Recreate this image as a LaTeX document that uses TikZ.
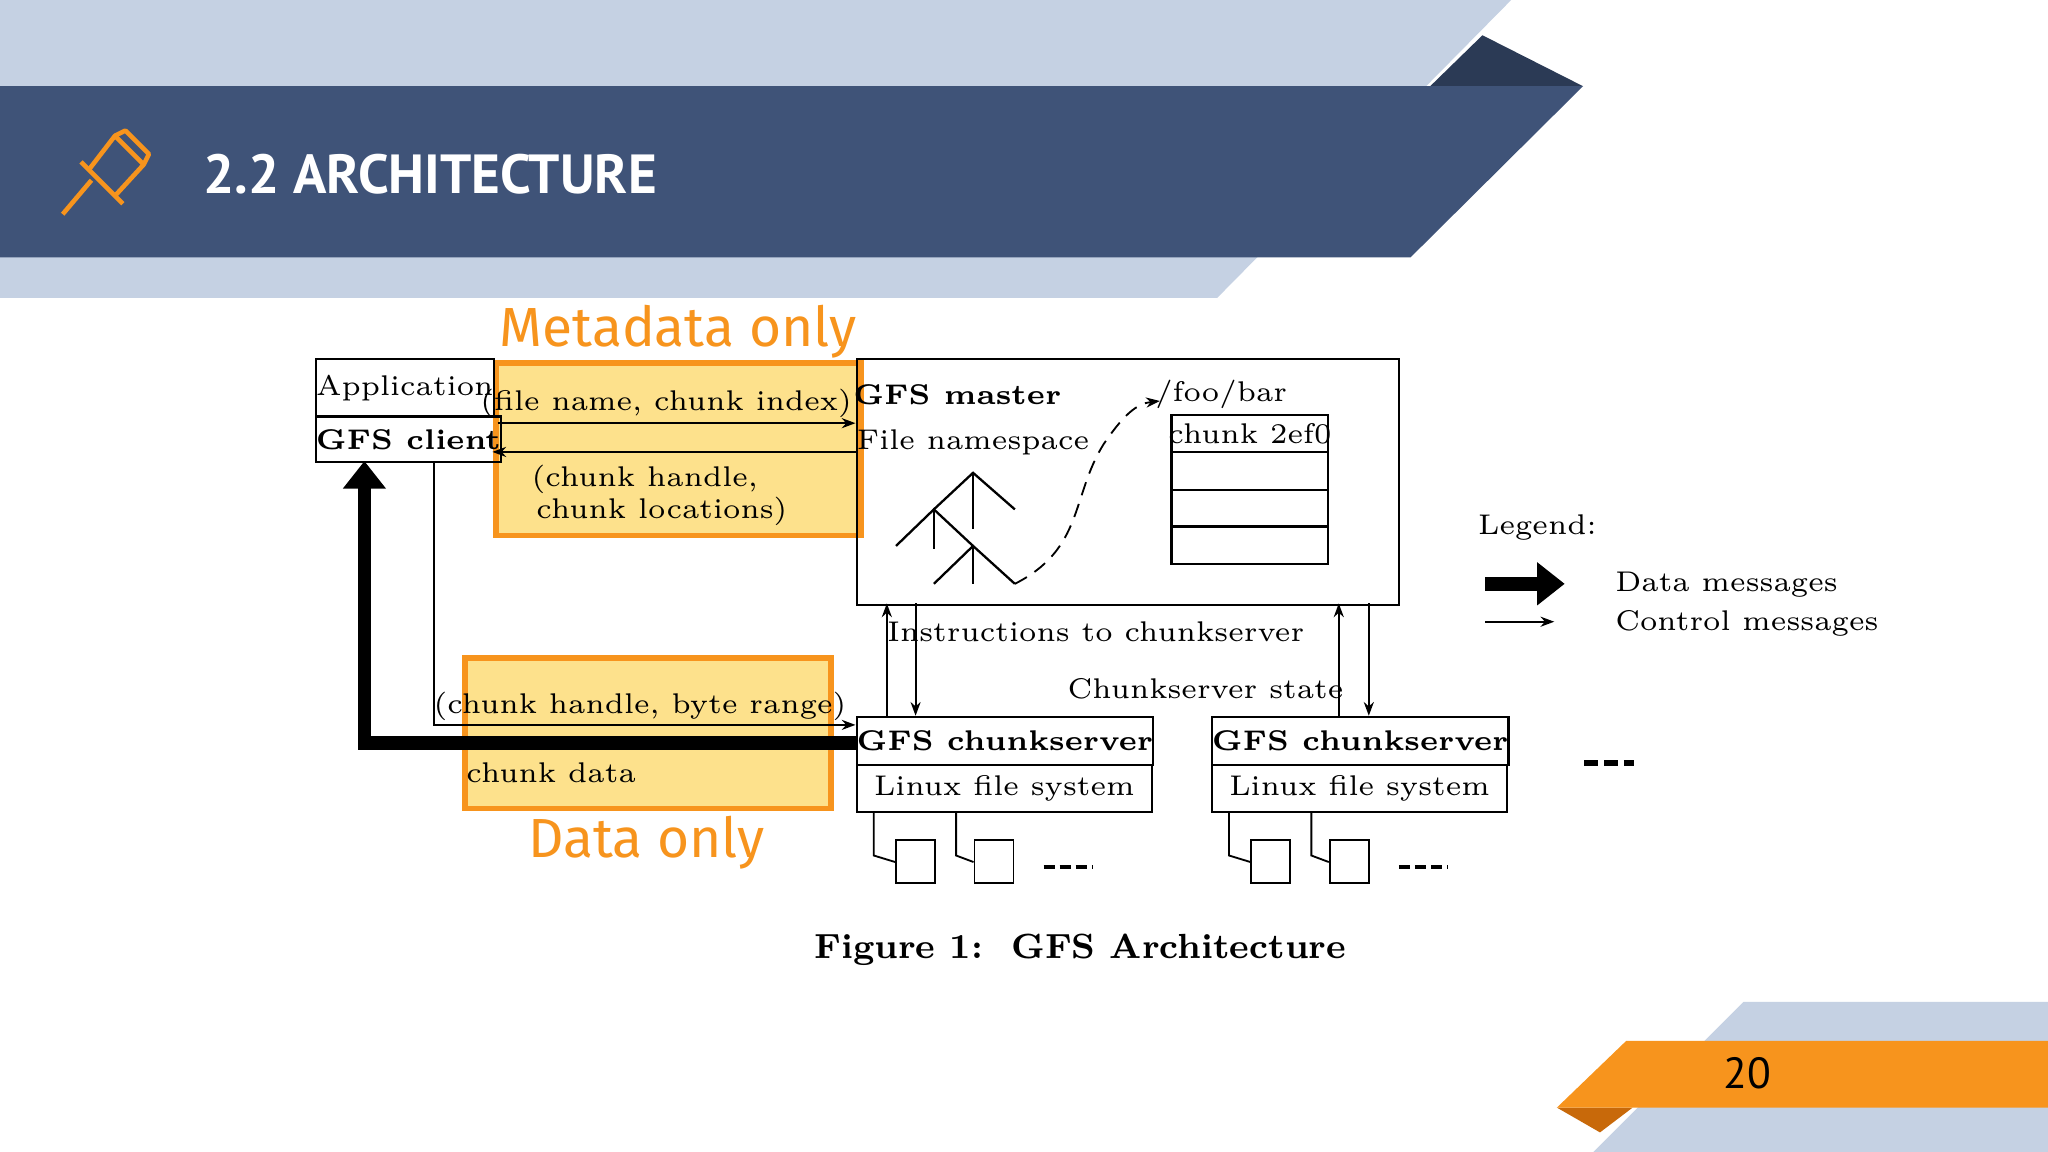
\documentclass[tikz,border=0pt]{standalone}
\usepackage{fontspec}
\newfontfamily\sans{PT Sans}
\newfontfamily\rob{Fira Sans}
\usetikzlibrary{arrows.meta,shapes.geometric}
\definecolor{lightb}{HTML}{C5D1E3}
\definecolor{darkb}{HTML}{3F5378}
\definecolor{navy}{HTML}{2B3A55}
\definecolor{org}{HTML}{F7941D}
\definecolor{orgd}{HTML}{C8690A}
\definecolor{yel}{HTML}{FDE18C}
\tikzset{
 t/.style={font=\fontsize{6.2}{7}\selectfont,inner sep=0pt},
 tb/.style={t,font=\fontsize{6.2}{7}\selectfont\bfseries},
 box/.style={draw,line width=0.5pt},
 hl/.style={draw=org,line width=1.3pt,fill=yel},
 ar/.style={-{Stealth[length=3pt,width=2.2pt]},line width=0.4pt},
 big/.style={-{Triangle[length=6pt,width=9pt]},line width=3pt},
 ol/.style={text=org,font=\rob\fontsize{12}{13}\selectfont,inner sep=0pt},
 cyl/.style={cylinder,shape border rotate=90,draw,line width=0.4pt,aspect=0.3,minimum width=8.5pt,minimum height=9.5pt,inner sep=0pt,fill=white},
}
\begin{document}
\begin{tikzpicture}[x=0.01cm,y=-0.01cm]
\useasboundingbox (0,0) rectangle (1568,882);
\fill[white] (0,0) rectangle (1568,882);
% header
\fill[lightb] (0,0)--(1157,0)--(932,228)--(0,228)--cycle;
\fill[navy] (1095,66)--(1135,27)--(1212,66)--cycle;
\fill[darkb] (0,66)--(1212,66)--(1080,197)--(0,197)--cycle;
\node[anchor=west,text=white,font=\sans\bfseries\fontsize{12}{14}\selectfont,inner sep=0pt] (title) at (155,133) {2.2 ARCHITECTURE};
% pin icon
\begin{scope}[draw=org,line width=1pt,line join=round]
\draw (48,164)--(70,138);
\draw (62,124)--(94,156);
\draw (68,130)--(88,104)--(110,126)--(88,150);
\draw (88,104)--(96,100)--(114,118)--(110,126);
\end{scope}
% footer
\fill[lightb] (1335,767)--(1568,767)--(1568,882)--(1220,882)--cycle;
\fill[orgd] (1192,848)--(1250,848)--(1225,867)--cycle;
\fill[org] (1245,797)--(1568,797)--(1568,848)--(1192,848)--cycle;
\node[font=\sans\fontsize{9.5}{11}\selectfont,inner sep=0pt] (pg) at (1338,822) {20};
% highlight boxes
\draw[hl] (380,278) rectangle (659,410);
\draw[hl] (356,504) rectangle (636,619);
\node[ol] (meta) at (519,254) {Metadata only};
\node[ol] (donly) at (495,645) {Data only};
% client
\node[box,minimum width=136\pgflinewidth,anchor=north west,t,minimum width=1.36cm,minimum height=0.44cm] (app) at (241,274) {Application};
\node[box,anchor=north west,tb,minimum width=1.36cm,minimum height=0.35cm] (cli) at (241,318) {GFS client};
% master
\node[box,anchor=north west,minimum width=4.15cm,minimum height=1.88cm,inner sep=0pt] (master) at (655,274) {};
\node[tb] (gm) at (733,302) {GFS master};
\node[t] (fn) at (745,339) {File namespace};
\node[t] (foo) at (935,302) {/foo/bar};
\draw[box] (897,318) rectangle (1017,432);
\foreach \y in {346,375,403} \draw[line width=0.5pt] (897,\y)--(1017,\y);
\node[t] (c2) at (957,332) {chunk 2ef0};
% tree
\begin{scope}[line width=0.5pt]
\draw (715,390)--(745,362)--(777,390);
\draw (745,362)--(745,405);
\draw (686,418)--(715,390)--(745,418);
\draw (715,390)--(715,420);
\draw (715,447)--(745,418)--(777,447);
\draw (745,418)--(745,447);
\end{scope}
\coordinate (tr) at (777,447);
\coordinate (fb) at (888,307);
\draw[ar,densely dashed] (tr) .. controls (830,420) and (820,380) .. (845,340) .. controls (860,318) and (870,309) .. (fb);
% metadata arrows
\coordinate (m1) at (655,324); \coordinate (c1) at (381,324);
\coordinate (m2) at (655,346); \coordinate (c2b) at (377,346);
\draw[ar] (c1)--(m1);
\draw[ar] (m2)--(c2b);
\node[t] (l1) at (510,309) {(file name, chunk index)};
\node[t,align=left] (l2) at (505,379) {(chunk handle,\\ \,chunk locations)};
% chunkservers
\node[box,anchor=north west,tb,minimum width=2.26cm,minimum height=0.37cm] (cs1) at (655,548) {GFS chunkserver};
\node[box,anchor=north west,t,minimum width=2.26cm,minimum height=0.36cm] (lf1) at (655,585) {Linux file system};
\node[box,anchor=north west,tb,minimum width=2.26cm,minimum height=0.37cm] (cs2) at (927,548) {GFS chunkserver};
\node[box,anchor=north west,t,minimum width=2.26cm,minimum height=0.36cm] (lf2) at (927,585) {Linux file system};
% control arrows
\draw[ar] (cs1.north west)++(24,0) -- (679,462);
\draw[ar] (701,462) -- (701,548);
\draw[ar] (1025,548) -- (1025,462);
\draw[ar] (1048,462) -- (1048,548);
\node[t] (ins) at (839,484) {Instructions to chunkserver};
\node[t] (st) at (923,527) {Chunkserver state};
% client to chunkserver
\draw[ar] (cli.south -| 332,0) -- (332,555) -- (655,555);
\node[t] (l3) at (490,541) {(chunk handle, byte range)};
\draw[big] (655,569) -- (279,569) -- (279,353);
\node[t] (cd) at (422,592) {chunk data};
% disks
\foreach \bx/\n in {655/a,927/b}{
 \node[cyl] (d1\n) at (\bx+46,660) {};
 \node[cyl] (d2\n) at (\bx+106,660) {};
 \draw[line width=0.4pt] (\bx+14,621)--(\bx+14,655)--(d1\n.west);
 \draw[line width=0.4pt] (\bx+77,621)--(\bx+77,655)--(d2\n.west);
 \draw[line width=0.8pt,dash pattern=on 2.5pt off 1pt] (\bx+144,664)--(\bx+182,664);
}
\draw[line width=1.3pt,dash pattern=on 3pt off 1.3pt] (1213,584)--(1251,584);
% legend
\node[t] (leg) at (1177,404) {Legend:};
\coordinate (la) at (1137,447); \coordinate (lb) at (1198,447);
\draw[big] (la)--(lb);
\coordinate (lc) at (1137,476); \coordinate (ld) at (1190,476);
\draw[ar] (lc)--(ld);
\node[t,anchor=west] (dm) at (1236,448) {Data messages};
\node[t,anchor=west] (cm) at (1236,477) {Control messages};
% caption
\node[font=\fontsize{7.6}{9}\selectfont\bfseries,inner sep=0pt] (cap) at (827,727) {Figure 1:\ \ GFS Architecture};
\end{tikzpicture}
\end{document}
